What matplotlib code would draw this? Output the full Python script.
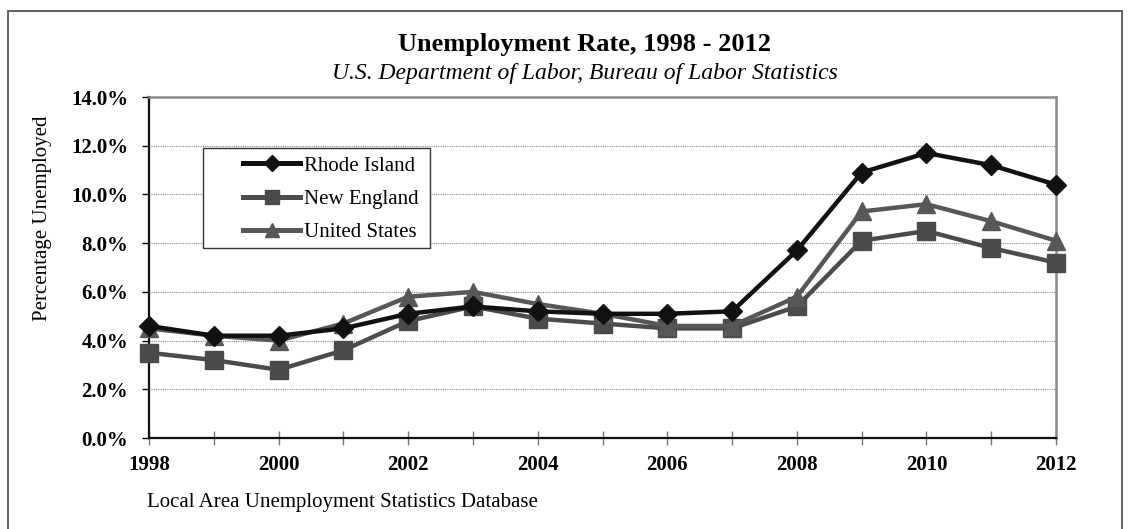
import matplotlib.pyplot as plt
from matplotlib.patches import Rectangle
from matplotlib.ticker import FuncFormatter

# ---------------------------------------------------
# Data (percent unemployed)
# ---------------------------------------------------
years = list(range(1998, 2013))
rhode_island = [4.6, 4.2, 4.2, 4.5, 5.1, 5.4, 5.2, 5.1, 5.1, 5.2, 7.7, 10.9, 11.7, 11.2, 10.4]
new_england = [3.5, 3.2, 2.8, 3.6, 4.8, 5.4, 4.9, 4.7, 4.5, 4.5, 5.4, 8.1, 8.5, 7.8, 7.2]
united_states = [4.5, 4.2, 4.0, 4.7, 5.8, 6.0, 5.5, 5.1, 4.6, 4.6, 5.8, 9.3, 9.6, 8.9, 8.1]

plt.rcParams['font.family'] = ['Liberation Serif', 'DejaVu Serif']

W, H = 1130, 529
fig = plt.figure(figsize=(W / 100, H / 100), dpi=100)


def px(x, y):
    # pixel position -> figure fraction
    return x / W, 1 - y / H


# plot area in pixels: left 149, right 1056, top 97, bottom 438
ax = fig.add_axes([149 / W, 1 - 438 / H, (1056 - 149) / W, (438 - 97) / H])

# outer chart border (bottom edge is off the picture)
fig.patches.append(Rectangle((7.5 / W, -0.05), (1122 - 7.5) / W, 1 - 10.5 / H + 0.05,
                             transform=fig.transFigure, fill=False,
                             edgecolor='#555555', linewidth=1.3))

ax.plot(years, rhode_island, color='#111111', lw=3.2, marker='D', ms=10.5,
        label='Rhode Island', zorder=5, clip_on=False)
ax.plot(years, new_england, color='#4b4b4b', lw=3.2, marker='s', ms=13.5,
        label='New England', zorder=3, clip_on=False)
ax.plot(years, united_states, color='#575757', lw=3.2, marker='^', ms=13.5,
        label='United States', zorder=4, clip_on=False)

ax.set_xlim(1998, 2012)
ax.set_ylim(0, 14)
ax.set_yticks(range(0, 15, 2))
ax.yaxis.set_major_formatter(FuncFormatter(lambda v, p: f"{v:.1f}%"))
ax.set_xticks(years)
ax.set_xticklabels([str(y) if y % 2 == 0 else '' for y in years])

ax.grid(axis='y', linestyle=(0, (1, 1)), color='#888888', linewidth=0.8)
ax.set_axisbelow(True)

for s in ['top', 'right']:
    ax.spines[s].set_color('#8a8a8a')
    ax.spines[s].set_linewidth(1.8)
for s in ['left', 'bottom']:
    ax.spines[s].set_color('#111111')
    ax.spines[s].set_linewidth(1.6)

ax.tick_params(axis='y', direction='out', length=5, width=1, labelsize=15, pad=10)
ax.tick_params(axis='x', direction='inout', length=10, width=1, color='#777777',
               labelsize=15, pad=7)
for lab in ax.get_xticklabels() + ax.get_yticklabels():
    lab.set_fontweight('bold')

fig.text(*px(43, 218), "Percentage Unemployed", rotation=90, ha='center', va='center',
         fontsize=15)

# legend: entries placed inside a hand drawn box
box = Rectangle(px(203, 248), (430 - 203) / W, (248 - 148) / H,
                transform=fig.transFigure, facecolor='white',
                edgecolor='#333333', linewidth=1.0, zorder=6, clip_on=False)
ax.add_patch(box)
leg = ax.legend(loc='upper left', bbox_to_anchor=px(243, 156),
                bbox_transform=fig.transFigure, fontsize=15, frameon=False,
                handlelength=2.74, handletextpad=0.2, borderpad=0, labelspacing=0.66,
                borderaxespad=0)
leg.set_zorder(7)
for h in leg.legend_handles:
    h.set_markersize(h.get_markersize() * 0.75)
    h.set_linewidth(3.6)

fig.text(*px(585, 44), "Unemployment Rate, 1998 - 2012", ha='center', va='center',
         fontsize=19, fontweight='bold')
fig.text(*px(585, 73), "U.S. Department of Labor, Bureau of Labor Statistics",
         ha='center', va='center', fontsize=17, style='italic')
fig.text(*px(147, 502), "Local Area Unemployment Statistics Database",
         ha='left', va='center', fontsize=15)

fig.savefig("out.png", dpi=100)
